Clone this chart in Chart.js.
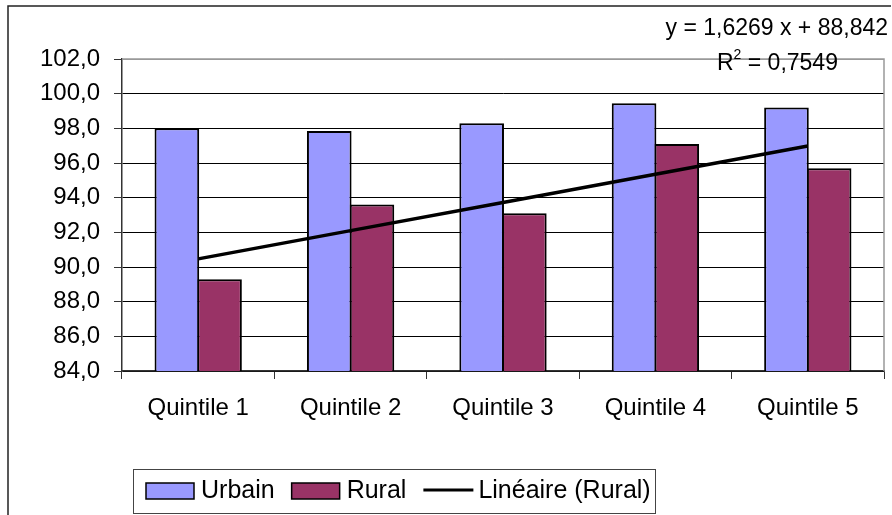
<!DOCTYPE html>
<html>
<head>
<meta charset="utf-8">
<script src="https://cdn.jsdelivr.net/npm/chart.js@4"></script>
<style>
    body { margin: 0; background: #fff; }
    canvas { display: block; }
</style>
</head>
<body>
<canvas id="chart" width="892" height="515"></canvas>
<script>
const categories = ['Quintile 1', 'Quintile 2', 'Quintile 3', 'Quintile 4', 'Quintile 5'];
const urbain = [98.0, 97.85, 98.3, 99.45, 99.2];
const rural = [89.3, 93.6, 93.1, 97.1, 95.7];
// trend line for Rural, as drawn in the picture
const trendRural = [90.47, 92.10, 93.72, 95.35, 96.98];
const equation = ['y = 1,6269 x + 88,842', 'R', '2', ' = 0,7549'];

const FONT = '"Liberation Sans", Arial, sans-serif';

const frame = {
    id: 'frame',
    beforeDraw(chart) {
        const ctx = chart.ctx;
        ctx.save();
        ctx.fillStyle = '#fff';
        ctx.fillRect(0, 0, chart.width, chart.height);
        // outer chart border
        ctx.strokeStyle = '#222';
        ctx.lineWidth = 1.5;
        ctx.beginPath();
        ctx.moveTo(8, chart.height + 2);
        ctx.lineTo(8, 6);
        ctx.lineTo(chart.width - 1, 6);
        ctx.stroke();
        ctx.restore();
    },
    beforeDatasetsDraw(chart) {
        const a = chart.chartArea;
        const ctx = chart.ctx;
        ctx.save();
        ctx.strokeStyle = '#999';
        ctx.lineWidth = 1.5;
        ctx.beginPath();
        ctx.moveTo(a.left, a.top);
        ctx.lineTo(a.right, a.top);
        ctx.lineTo(a.right, a.bottom);
        ctx.stroke();
        ctx.restore();
    },
    afterDraw(chart) {
        const ctx = chart.ctx;
        ctx.save();
        ctx.fillStyle = '#000';
        ctx.textBaseline = 'middle';

        // trend line equation
        ctx.font = '23px ' + FONT;
        ctx.textAlign = 'right';
        ctx.fillText(equation[0], 888, 29);
        ctx.textAlign = 'left';
        let x = 717;
        ctx.fillText(equation[1], x, 64);
        x += ctx.measureText(equation[1]).width;
        ctx.font = '14px ' + FONT;
        ctx.fillText(equation[2], x, 55);
        x += ctx.measureText(equation[2]).width;
        ctx.font = '23px ' + FONT;
        ctx.fillText(equation[3], x, 64);

        // legend
        const top = 469, bottom = 513;
        ctx.strokeStyle = '#444';
        ctx.lineWidth = 1;
        ctx.strokeRect(133.5, top + 0.5, 522, bottom - top);
        ctx.font = '25px ' + FONT;
        let lx = 146;
        const cy = 491;
        const items = [chart.data.datasets[1], chart.data.datasets[2], chart.data.datasets[0]];
        items.forEach(ds => {
            if (ds.type === 'line') {
                ctx.strokeStyle = ds.borderColor;
                ctx.lineWidth = 3;
                ctx.beginPath();
                ctx.moveTo(lx, cy - 1);
                ctx.lineTo(lx + 50, cy - 1);
                ctx.stroke();
            } else {
                ctx.fillStyle = ds.backgroundColor;
                ctx.fillRect(lx, 483, 48, 16);
                ctx.strokeStyle = '#000';
                ctx.lineWidth = 1.5;
                ctx.strokeRect(lx, 483, 48, 16);
            }
            ctx.fillStyle = '#000';
            ctx.fillText(ds.label, lx + 55, cy);
            lx += 55 + ctx.measureText(ds.label).width + 17;
        });
        ctx.restore();
    }
};

new Chart(document.getElementById('chart'), {
    type: 'bar',
    data: {
        labels: categories,
        datasets: [
            {
                type: 'line',
                label: 'Linéaire (Rural)',
                data: trendRural,
                borderColor: '#000',
                borderWidth: 3.5,
                pointRadius: 0,
                fill: false,
                order: 0
            },
            {
                label: 'Urbain',
                data: urbain,
                backgroundColor: '#9999FF',
                borderColor: '#000',
                borderWidth: 2,
                borderSkipped: false,
                inflateAmount: 0,
                order: 1
            },
            {
                label: 'Rural',
                data: rural,
                backgroundColor: '#993366',
                borderColor: '#000',
                borderWidth: 2,
                borderSkipped: false,
                inflateAmount: 0,
                order: 1
            }
        ]
    },
    options: {
        responsive: false,
        devicePixelRatio: 1,
        animation: false,
        layout: { padding: { top: 59, right: 8, left: 0, bottom: 0 } },
        datasets: {
            bar: { categoryPercentage: 0.56, barPercentage: 1.046 }
        },
        plugins: {
            legend: { display: false },
            tooltip: { enabled: false }
        },
        scales: {
            x: {
                afterFit: (scale) => { scale.height = 144; },
                grid: {
                    offset: true,
                    drawOnChartArea: false,
                    drawTicks: true,
                    tickLength: 8,
                    color: '#333'
                },
                border: { color: '#333', width: 1.5 },
                ticks: {
                    color: '#000',
                    padding: 15,
                    font: { family: FONT, size: 24 }
                }
            },
            y: {
                min: 84,
                max: 102,
                afterFit: (scale) => { scale.width = 122; },
                grid: {
                    color: (c) => c.tick && c.tick.value === 102 ? '#999' : '#000',
                    tickColor: '#333',
                    tickLength: 8
                },
                border: { color: '#333', width: 1.5 },
                ticks: {
                    stepSize: 2,
                    color: '#000',
                    padding: 14,
                    font: { family: FONT, size: 24 },
                    callback: (v) => v.toFixed(1).replace('.', ',')
                }
            }
        }
    },
    plugins: [frame]
});
</script>
</body>
</html>
